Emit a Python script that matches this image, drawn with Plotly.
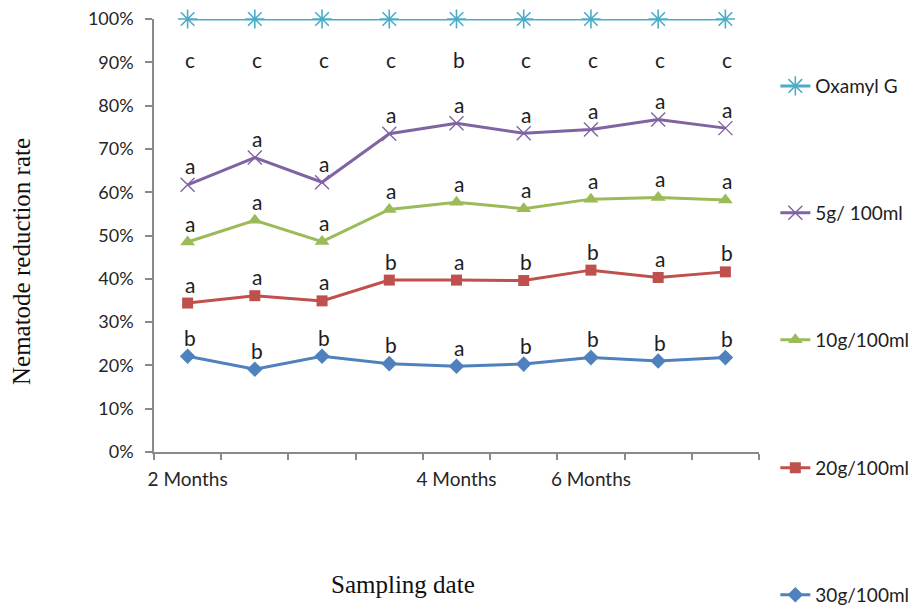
import plotly.graph_objects as go

# Sampling points (9 dates) and their axis labels
positions = [1, 2, 3, 4, 5, 6, 7, 8, 9]
tick_labels = ["2 Months", "", "", "", "4 Months", "", "6 Months", "", ""]

# Nematode reduction rate (%) per treatment
oxamyl = [100, 100, 100, 100, 100, 100, 100, 100, 100]
dose_5g = [61.7, 68.0, 62.3, 73.5, 75.9, 73.6, 74.5, 76.8, 74.8]
dose_10g = [48.5, 53.5, 48.6, 56.0, 57.7, 56.2, 58.4, 58.8, 58.2]
dose_20g = [34.4, 36.1, 34.9, 39.7, 39.7, 39.6, 42.0, 40.3, 41.6]
dose_30g = [22.1, 19.1, 22.1, 20.4, 19.8, 20.3, 21.8, 21.0, 21.8]

# Significance letters per treatment and date
letters_oxamyl = ["c", "c", "c", "c", "b", "c", "c", "c", "c"]
letters_5g = ["a", "a", "a", "a", "a", "a", "a", "a", "a"]
letters_10g = ["a", "a", "a", "a", "a", "a", "a", "a", "a"]
letters_20g = ["a", "a", "a", "b", "a", "b", "b", "a", "b"]
letters_30g = ["b", "b", "b", "b", "a", "b", "b", "b", "b"]

series = [
    ("Oxamyl G", oxamyl, letters_oxamyl, "#4bacc6",
     dict(symbol="asterisk-open", size=16, line=dict(width=1.6, color="#4bacc6")), -40),
    ("5g/ 100ml", dose_5g, letters_5g, "#8064a2",
     dict(symbol="x-thin-open", size=14, line=dict(width=1.4, color="#9d86c0")), 19),
    ("10g/100ml", dose_10g, letters_10g, "#9bbb59",
     dict(symbol="triangle-up", size=13, color="#9bbb59"), 19),
    ("20g/100ml", dose_20g, letters_20g, "#c0504d",
     dict(symbol="square", size=11, color="#c0504d"), 19),
    ("30g/100ml", dose_30g, letters_30g, "#4f81bd",
     dict(symbol="diamond", size=12, color="#4f81bd"), 19),
]

# Vertical centres (paper units) of the separate legend entries on the right
legend_rows = [0.845, 0.552, 0.259, -0.037, -0.330]

fig = go.Figure()
annotations = []
legends = {}
for i, (name, values, letters, color, marker, shift) in enumerate(series):
    legend_id = "legend" if i == 0 else f"legend{i + 1}"
    fig.add_trace(go.Scatter(
        x=positions, y=values, name=name, mode="lines+markers",
        line=dict(color=color, width=3), marker=marker,
        legend=legend_id, cliponaxis=False,
    ))
    legends[legend_id] = dict(
        x=1.027, y=legend_rows[i], xanchor="left", yanchor="middle",
        font=dict(family="Lato", size=19, color="#1e1e1e"),
        bgcolor="rgba(0,0,0,0)",
    )
    for x, y, t in zip(positions, values, letters):
        annotations.append(dict(
            x=x, y=y, xref="x", yref="y", text=t, showarrow=False,
            xshift=2, yshift=shift, font=dict(family="Lato", size=21, color="#1e1e1e"),
        ))

# Axis titles
annotations.append(dict(
    text="Nematode reduction rate", xref="paper", yref="paper", x=-0.218, y=0.439,
    textangle=-90, showarrow=False, xanchor="center", yanchor="middle",
    font=dict(family="Liberation Serif", size=25, color="#111"),
))
annotations.append(dict(
    text="Sampling date", xref="paper", yref="paper", x=0.4116, y=-0.307,
    showarrow=False, xanchor="center", yanchor="middle",
    font=dict(family="Liberation Serif", size=25, color="#111"),
))

axis_color = "#8a8a8a"
fig.update_layout(
    width=917, height=605,
    margin=dict(l=154, r=158, t=19, b=153, autoexpand=False),
    plot_bgcolor="white", paper_bgcolor="white",
    showlegend=True,
    annotations=annotations,
    xaxis=dict(
        range=[0.5, 9.5], tickmode="array", tickvals=positions, ticktext=tick_labels,
        ticks="", showline=True, linecolor=axis_color, linewidth=1.5,
        showgrid=False, zeroline=False, ticklabelstandoff=9,
        minor=dict(tickmode="linear", tick0=0.5, dtick=1, ticks="outside",
                   ticklen=6, tickcolor=axis_color, tickwidth=1.5, showgrid=False),
        tickfont=dict(family="Lato", size=19, color="#262626"),
    ),
    yaxis=dict(
        range=[0, 100], dtick=10, ticksuffix="%", ticks="outside", ticklen=7,
        tickcolor=axis_color, tickwidth=1.5, showline=True, linecolor=axis_color,
        linewidth=1.5, showgrid=False, zeroline=False, ticklabelstandoff=8,
        tickfont=dict(family="Lato", size=18, color="#262626"),
    ),
    **legends,
)

fig.write_html("out.html")
